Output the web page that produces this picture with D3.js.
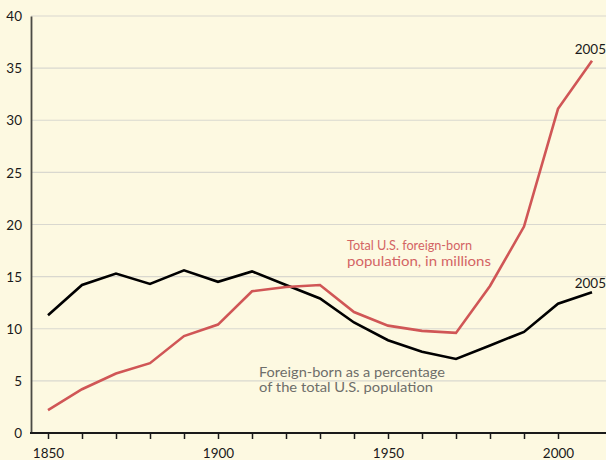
<!DOCTYPE html>
<html>
<head>
<meta charset="utf-8">
<script src="https://cdn.jsdelivr.net/npm/d3@7"></script>
<style>
	html, body { margin: 0; padding: 0; background: #fdf9e1; }
	svg { display: block; }
	.tick text { font-family: Lato, "Open Sans", sans-serif; font-size: 13.5px; fill: #1a1a1a; }
	.note { font-family: Lato, "Open Sans", sans-serif; font-size: 14px; }
</style>
</head>
<body>
<script>
// decades on the x axis; the last point (2005 data) is drawn at the 2010 slot as in the original
var years = [1850, 1860, 1870, 1880, 1890, 1900, 1910, 1920, 1930, 1940, 1950, 1960, 1970, 1980, 1990, 2000, 2010];
// total foreign-born population, millions
var foreignBorn = [2.2, 4.2, 5.7, 6.7, 9.3, 10.4, 13.6, 14.0, 14.2, 11.6, 10.3, 9.8, 9.6, 14.1, 19.8, 31.1, 35.7];
// foreign-born as % of total population
var percentForeign = [11.3, 14.2, 15.3, 14.3, 15.6, 14.5, 15.5, 14.2, 12.9, 10.6, 8.9, 7.8, 7.1, 8.4, 9.7, 12.4, 13.5];

var yTicks = [0, 5, 10, 15, 20, 25, 30, 35, 40];
var xTicks = [1850, 1860, 1870, 1880, 1890, 1900, 1910, 1920, 1930, 1940, 1950, 1960, 1970, 1980, 1990, 2000];
var xLabels = [1850, 1900, 1950, 2000];

var width = 606, height = 460,
	axisX = 31;

var svg = d3.select('body').append('svg')
	.attr('width', width)
	.attr('height', height);

var x = d3.scaleLinear().domain([1850, 2000]).range([48, 558]);
var y = d3.scaleLinear().domain([0, 40]).range([433, 16]);

// grid lines
svg.append('g').selectAll('line').data(yTicks.filter(function (d) { return d > 0; }))
	.enter().append('line')
	.attr('x1', axisX).attr('x2', width)
	.attr('y1', function (d) { return y(d); })
	.attr('y2', function (d) { return y(d); })
	.attr('stroke', '#d9d8cf')
	.attr('stroke-width', 1.2);

// y axis
var yAxis = svg.append('g')
	.attr('transform', 'translate(' + axisX + ',0)')
	.call(d3.axisLeft(y).tickValues(yTicks).tickSize(0).tickPadding(9));
yAxis.select('.domain').attr('stroke', '#4a4a44').attr('stroke-width', 1.8);
yAxis.selectAll('.tick text').attr('dy', '0.35em');

// x axis
var xAxis = svg.append('g')
	.attr('transform', 'translate(0,' + y(0) + ')')
	.call(d3.axisBottom(x).tickValues(xTicks).tickSize(6).tickPadding(9)
		.tickFormat(function (d) { return xLabels.indexOf(d) >= 0 ? d : ''; }));
xAxis.select('.domain').remove();
xAxis.selectAll('.tick line').attr('stroke', '#1a1a1a').attr('stroke-width', 1.5);
xAxis.append('line')
	.attr('x1', axisX - 1).attr('x2', width)
	.attr('stroke', '#1a1a1a').attr('stroke-width', 1.8);

// lines
var line = d3.line()
	.x(function (d) { return x(d[0]); })
	.y(function (d) { return y(d[1]); });

svg.append('path')
	.datum(d3.zip(years, percentForeign))
	.attr('d', line)
	.attr('fill', 'none')
	.attr('stroke', '#000')
	.attr('stroke-width', 2.6)
	.attr('stroke-linejoin', 'miter');

svg.append('path')
	.datum(d3.zip(years, foreignBorn))
	.attr('d', line)
	.attr('fill', 'none')
	.attr('stroke', '#d05656')
	.attr('stroke-width', 2.6);

// end labels
var lastYear = years[years.length - 1];
svg.append('text').attr('class', 'tick')
	.append('tspan')
	.attr('x', x(lastYear) + 14).attr('y', y(foreignBorn[foreignBorn.length - 1]) - 7)
	.attr('text-anchor', 'end')
	.style('font-family', 'Lato, sans-serif').style('font-size', '13.5px').attr('fill', '#1a1a1a')
	.text('2005');
svg.append('text')
	.attr('x', x(lastYear) + 14).attr('y', y(percentForeign[percentForeign.length - 1]) - 4)
	.attr('text-anchor', 'end')
	.style('font-family', 'Lato, sans-serif').style('font-size', '13.5px').attr('fill', '#1a1a1a')
	.text('2005');

// series notes
var redNote = svg.append('text').attr('class', 'note').attr('fill', '#d36464');
redNote.append('tspan').attr('x', 347).attr('y', 250)
	.attr('textLength', 125).attr('lengthAdjust', 'spacingAndGlyphs')
	.text('Total U.S. foreign-born');
redNote.append('tspan').attr('x', 347).attr('y', 266)
	.attr('textLength', 144).attr('lengthAdjust', 'spacingAndGlyphs')
	.text('population, in millions');

var greyNote = svg.append('text').attr('class', 'note').attr('fill', '#6e6e6a');
greyNote.append('tspan').attr('x', 259).attr('y', 377)
	.attr('textLength', 186).attr('lengthAdjust', 'spacingAndGlyphs')
	.text('Foreign-born as a percentage');
greyNote.append('tspan').attr('x', 259).attr('y', 392)
	.attr('textLength', 174).attr('lengthAdjust', 'spacingAndGlyphs')
	.text('of the total U.S. population');
</script>
</body>
</html>
